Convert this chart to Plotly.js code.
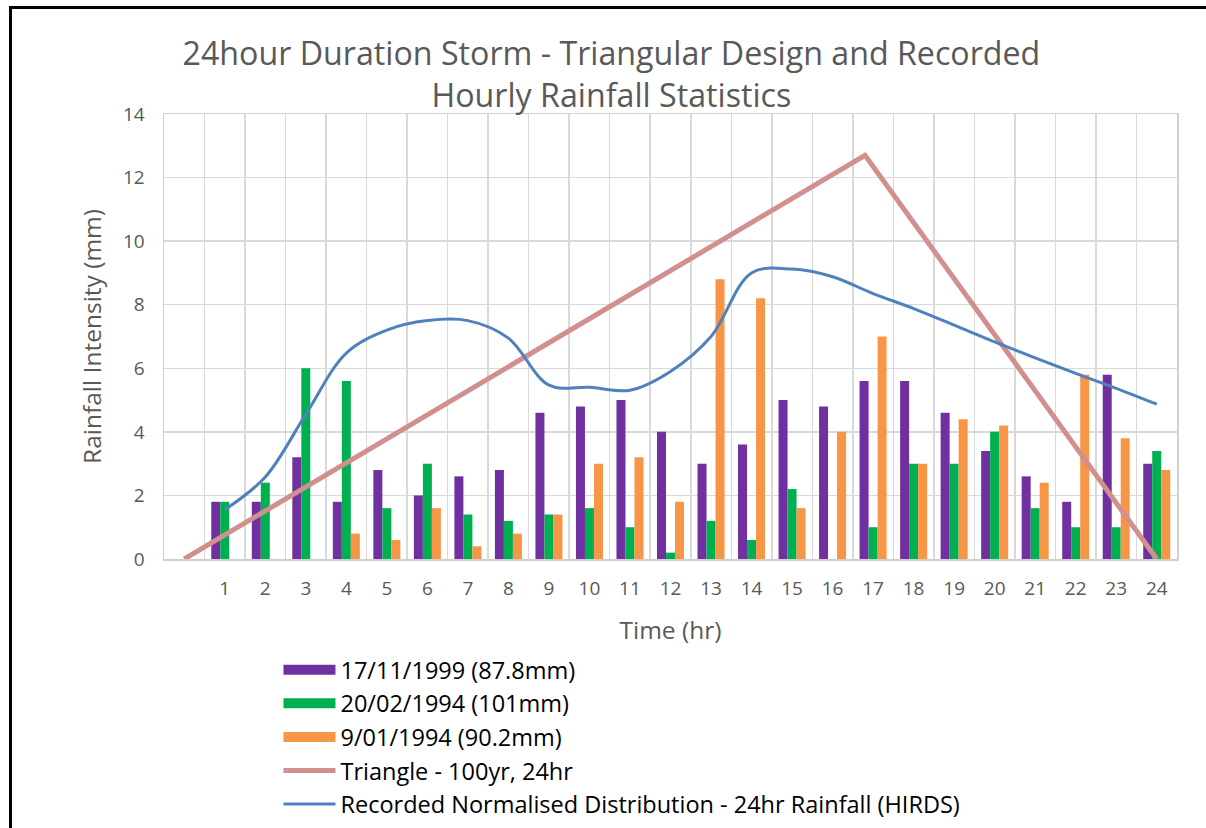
<!DOCTYPE html>
<html>
<head>
<meta charset="utf-8">
<script src="https://cdn.plot.ly/plotly-3.0.1.min.js"></script>
<style>
  html, body { margin: 0; padding: 0; background: #ffffff; }
  #chart { position: absolute; left: 0; top: 0; width: 1206px; height: 828px; }
  #frame { position: absolute; left: 9px; top: 6px; width: 1300px; height: 1000px;
           border-left: 3px solid #000; border-top: 3px solid #000; pointer-events: none; }
</style>
</head>
<body>
<div id="chart"></div>
<div id="frame"></div>
<script>
// ---- data ----
const hours = [1,2,3,4,5,6,7,8,9,10,11,12,13,14,15,16,17,18,19,20,21,22,23,24];
const tickLabels = hours.map(String);

const storm1999 = [1.8,1.8,3.2,1.8,2.8,2.0,2.6,2.8,4.6,4.8,5.0,4.0,3.0,3.6,5.0,4.8,5.6,5.6,4.6,3.4,2.6,1.8,5.8,3.0];
const storm1994Feb = [1.8,2.4,6.0,5.6,1.6,3.0,1.4,1.2,1.4,1.6,1.0,0.2,1.2,0.6,2.2,0.0,1.0,3.0,3.0,4.0,1.6,1.0,1.0,3.4];
const storm1994Jan = [0.0,0.0,0.0,0.8,0.6,1.6,0.4,0.8,1.4,3.0,3.2,1.8,8.8,8.2,1.6,4.0,7.0,3.0,4.4,4.2,2.4,5.8,3.8,2.8];

const triangleX = [0, 16.8, 24];
const triangleY = [0, 12.7, 0];

const hirds = [1.55,2.58,4.55,6.48,7.2,7.5,7.5,6.95,5.47,5.4,5.31,5.9,7.0,9.0,9.12,8.88,8.35,7.88,7.36,6.83,6.33,5.84,5.37,4.87];

const names = ["17/11/1999 (87.8mm)", "20/02/1994 (101mm)", "9/01/1994 (90.2mm)",
               "Triangle - 100yr, 24hr", "Recorded Normalised Distribution - 24hr Rainfall (HIRDS)"];
const colors = ["#7030A0", "#00B050", "#F79646", "#D18F8F", "#4F81BD"];

const FONT = "'Open Sans', Lato, sans-serif";

const barSeries = [storm1999, storm1994Feb, storm1994Jan];

const traces = [];
// bars (legend entries drawn by proxy traces so the swatch is a wide block like the original)
barSeries.forEach((vals, i) => {
  traces.push({type: "bar", x: hours, y: vals, name: names[i], marker: {color: colors[i]},
               showlegend: false, legendgroup: "g" + i});
});
barSeries.forEach((vals, i) => {
  traces.push({type: "scatter", mode: "lines", x: [null], y: [null], name: names[i],
               line: {color: colors[i], width: 14}, legendgroup: "g" + i, hoverinfo: "skip"});
});
traces.push({type: "scatter", mode: "lines", x: triangleX, y: triangleY, name: names[3],
             line: {color: colors[3], width: 5}, legendgroup: "g3"});
traces.push({type: "scatter", mode: "lines", x: hours, y: hirds, name: names[4],
             line: {color: colors[4], width: 3, shape: "spline", smoothing: 1}, legendgroup: "g4"});

const layout = {
  width: 1206, height: 828,
  paper_bgcolor: "#ffffff", plot_bgcolor: "#ffffff",
  margin: {l: 164, r: 29, t: 114, b: 269, autoexpand: false},
  font: {family: FONT, color: "#595959"},
  title: {
    text: "24hour Duration Storm - Triangular Design and Recorded<br>Hourly Rainfall Statistics",
    font: {family: FONT, size: 32.2, color: "#595959"},
    xref: "container", x: 0.507, xanchor: "center",
    yref: "container", y: 0.921, yanchor: "top"
  },
  barmode: "group", bargap: 0.333, bargroupgap: 0,
  showlegend: true,
  legend: {
    orientation: "v", x: 0.113, xanchor: "left", y: -0.2, yanchor: "top",
    font: {family: FONT, size: 23.5, color: "#000000"},
    itemwidth: 52, tracegroupgap: 0, bgcolor: "rgba(0,0,0,0)", traceorder: "normal"
  },
  xaxis: {
    range: [-0.5, 24.5], tickmode: "array", tickvals: hours, ticktext: tickLabels,
    showgrid: false, zeroline: false, ticks: "",
    showline: true, linecolor: "#cfcfcf", linewidth: 1.5, mirror: true,
    tickfont: {family: FONT, size: 19, color: "#595959"},
    ticklabelstandoff: 12,
    minor: {tickmode: "linear", tick0: 0.5, dtick: 1, showgrid: true, gridcolor: "#d9d9d9", gridwidth: 1.5, ticks: ""},
    title: {text: "Time (hr)", font: {family: FONT, size: 24.5, color: "#595959"}, standoff: 21},
    fixedrange: true
  },
  yaxis: {
    range: [0, 14], tickmode: "linear", tick0: 0, dtick: 2,
    showgrid: true, gridcolor: "#d9d9d9", gridwidth: 1.5, zeroline: false, ticks: "",
    showline: true, linecolor: "#cfcfcf", linewidth: 1.5, mirror: true,
    tickfont: {family: FONT, size: 19, color: "#595959"},
    ticklabelstandoff: 14,
    title: {text: "Rainfall Intensity (mm)", font: {family: FONT, size: 24.5, color: "#595959"}, standoff: 14},
    fixedrange: true
  }
};

Plotly.newPlot("chart", traces, layout, {displayModeBar: false, staticPlot: true});
</script>
</body>
</html>
